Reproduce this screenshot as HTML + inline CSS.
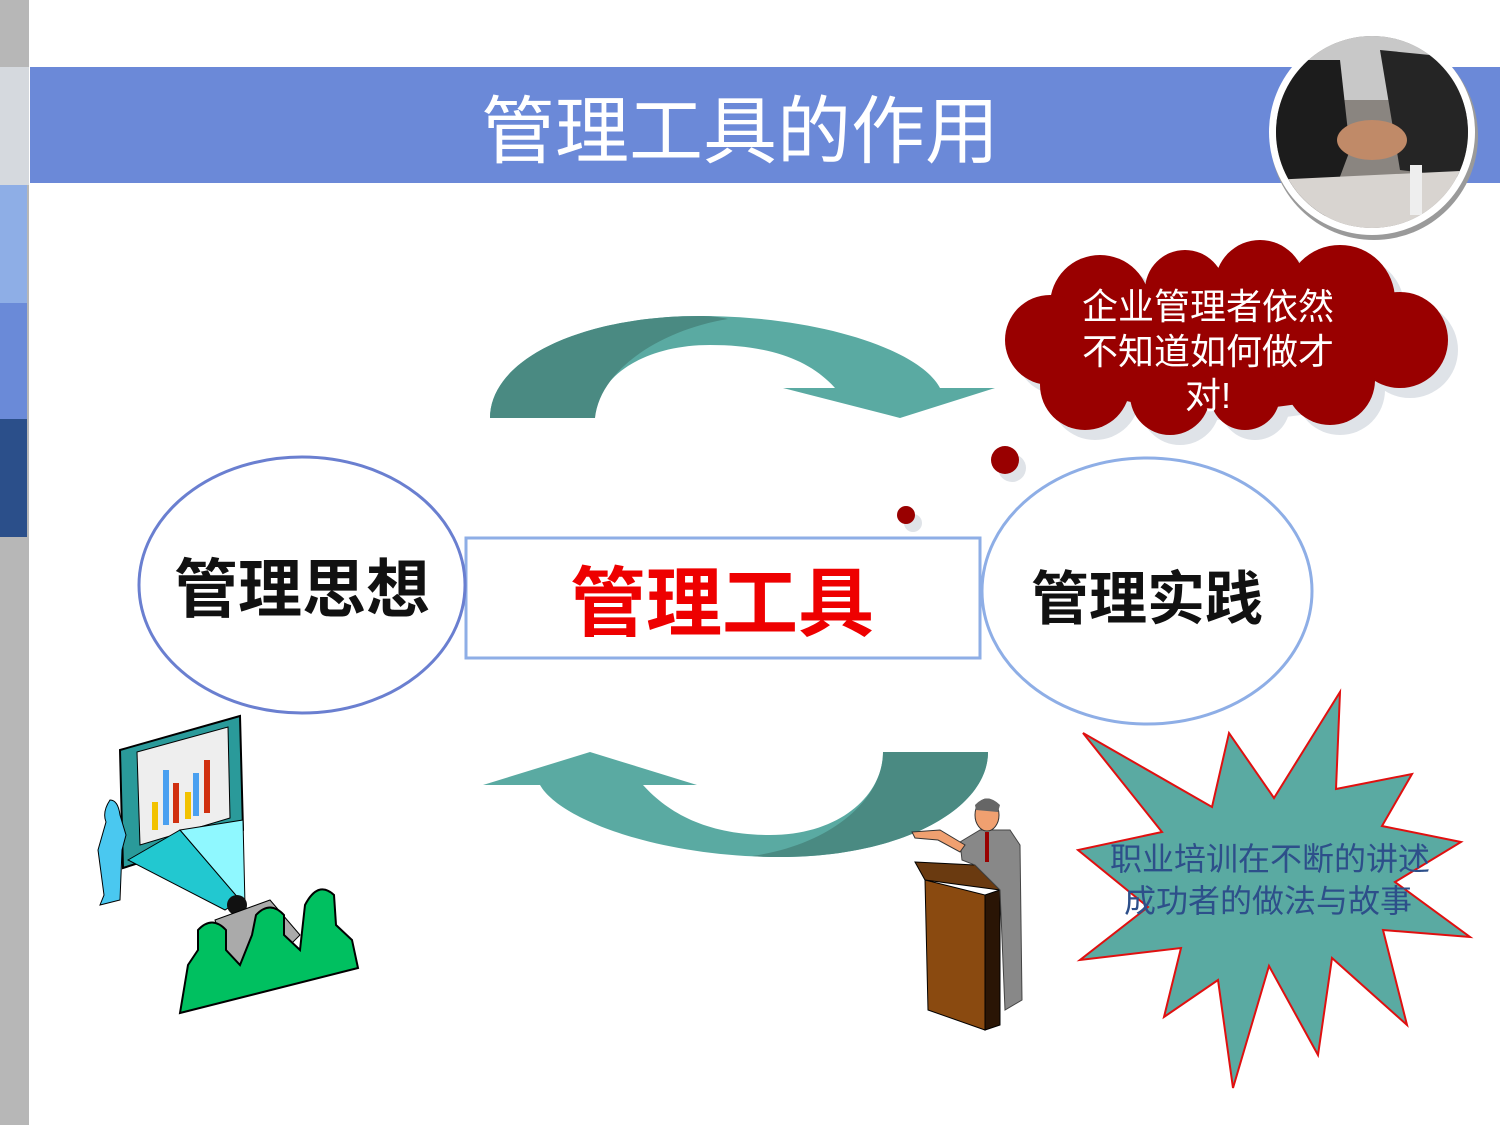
<!DOCTYPE html>
<html><head><meta charset="utf-8"><style>
html,body{margin:0;padding:0;background:#fff;}
body{width:1500px;height:1125px;position:relative;overflow:hidden;font-family:"Liberation Sans","Noto Sans CJK SC",sans-serif;}
svg{position:absolute;left:0;top:0;}
</style></head><body>
<svg width="1500" height="1125" viewBox="0 0 1500 1125" xmlns="http://www.w3.org/2000/svg">
<defs>
<clipPath id="cc"><circle cx="1372" cy="132" r="96"/></clipPath>
</defs>
<rect x="0" y="0" width="29" height="1125" fill="#b7b7b7"/>
<rect x="0" y="67" width="29" height="118" fill="#d5d9de"/>
<rect x="0" y="185" width="27" height="118" fill="#8eaee6"/>
<rect x="0" y="303" width="27" height="116" fill="#6a8ad8"/>
<rect x="0" y="419" width="27" height="118" fill="#2b4f8a"/>
<rect x="30" y="67" width="1470" height="116" fill="#6b89d8"/>
<text x="740" y="157" font-size="74" fill="#fff" text-anchor="middle">管理工具的作用</text>
<circle cx="1374" cy="136" r="104" fill="#9a9a9a"/>
<circle cx="1372" cy="132" r="103" fill="#fff"/>
<g clip-path="url(#cc)">
<rect x="1270" y="30" width="210" height="210" fill="#8a8580"/>
<rect x="1270" y="30" width="210" height="70" fill="#c8c8c8"/>
<path d="M1270,60 L1340,60 L1350,150 L1320,230 L1270,230Z" fill="#1c1c1c"/>
<path d="M1380,50 L1480,60 L1480,180 L1400,170 L1390,110Z" fill="#252525"/>
<ellipse cx="1372" cy="140" rx="35" ry="20" fill="#c08a68"/>
<path d="M1270,180 L1480,170 L1480,240 L1270,240Z" fill="#d8d4d0"/>
<rect x="1410" y="165" width="12" height="50" fill="#eee"/>
</g>
<path d="M490,418 C490,360 580,316 700,316 C820,316 920,350 940,388 L995,388 L900,418 L783,388 L835,388 C810,360 770,345 710,345 C640,345 595,380 595,418 Z" fill="#5aaaa2"/>
<path d="M490,418 C490,360 580,316 700,316 C710,316 720,317 728,319 C660,330 600,370 595,418 Z" fill="#4a8a82"/>
<path d="M988,752 C988,810 900,857 780,857 C660,857 560,820 540,785 L483,785 L590,752 L697,785 L643,785 C670,815 710,835 770,835 C840,835 883,795 883,752 Z" fill="#5aaaa2"/>
<path d="M988,752 C988,810 900,857 780,857 C770,857 762,857 752,856 C830,845 883,800 883,752 Z" fill="#4a8a82"/>
<g fill="#dfe3e8" transform="translate(10,10)">
<ellipse cx="1220" cy="345" rx="185" ry="65"/>
<circle cx="1100" cy="305" r="50"/><circle cx="1185" cy="290" r="40"/><circle cx="1260" cy="285" r="45"/><circle cx="1340" cy="300" r="55"/>
<circle cx="1050" cy="340" r="45"/><circle cx="1400" cy="340" r="48"/><circle cx="1085" cy="385" r="45"/><circle cx="1170" cy="395" r="40"/><circle cx="1245" cy="395" r="35"/><circle cx="1330" cy="380" r="45"/>
</g>
<g fill="#990000">
<ellipse cx="1220" cy="345" rx="185" ry="65"/>
<circle cx="1100" cy="305" r="50"/><circle cx="1185" cy="290" r="40"/><circle cx="1260" cy="285" r="45"/><circle cx="1340" cy="300" r="55"/>
<circle cx="1050" cy="340" r="45"/><circle cx="1400" cy="340" r="48"/><circle cx="1085" cy="385" r="45"/><circle cx="1170" cy="395" r="40"/><circle cx="1245" cy="395" r="35"/><circle cx="1330" cy="380" r="45"/>
</g>
<g font-size="36" fill="#fff" text-anchor="middle">
<text x="1208" y="319">企业管理者依然</text>
<text x="1208" y="364">不知道如何做才</text>
<text x="1208" y="408">对!</text>
</g>
<circle cx="1012" cy="468" r="14" fill="#dfe3e8"/><circle cx="1005" cy="460" r="14" fill="#990000"/>
<circle cx="913" cy="523" r="9" fill="#dfe3e8"/><circle cx="906" cy="515" r="9" fill="#990000"/>
<rect x="466" y="538" width="514" height="120" fill="#fff" stroke="#8eaee6" stroke-width="3"/>
<ellipse cx="302" cy="585" rx="163" ry="128" fill="none" stroke="#6a7fd0" stroke-width="3"/>
<ellipse cx="1147" cy="591" rx="165" ry="133" fill="none" stroke="#8eaee6" stroke-width="3"/>
<text x="302" y="612" font-size="64" font-weight="bold" fill="#111" text-anchor="middle">管理思想</text>
<text x="722" y="630" font-size="76" font-weight="bold" fill="#ee0000" text-anchor="middle">管理工具</text>
<text x="1147" y="619" font-size="58" font-weight="bold" fill="#111" text-anchor="middle">管理实践</text>
<polygon points="1083,733 1212,807 1229,733 1274,798 1340,692 1336,789 1412,774 1382,826 1461,842 1395,882 1470,937 1383,930 1407,1025 1332,958 1318,1055 1269,966 1233,1088 1218,980 1164,1017 1181,948 1080,960 1148,907 1078,850 1162,832" fill="#5aaaa2" stroke="#e01010" stroke-width="2"/>
<g font-size="32" fill="#2d4f8a" text-anchor="middle">
<text x="1270" y="870">职业培训在不断的讲述</text>
<text x="1268" y="912">成功者的做法与故事</text>
</g>
<polygon points="120,750 240,716 243,830 123,868" fill="#2a9a9a" stroke="#000" stroke-width="2"/>
<polygon points="137,752 228,727 230,818 140,845" fill="#eee" stroke="#000" stroke-width="1"/>
<rect x="152" y="802" width="6" height="28" fill="#f2c200"/><rect x="163" y="770" width="6" height="55" fill="#4aa0f0"/><rect x="173" y="783" width="6" height="40" fill="#d03010"/><rect x="185" y="792" width="6" height="27" fill="#f2c200"/><rect x="193" y="773" width="6" height="43" fill="#4aa0f0"/><rect x="204" y="760" width="6" height="53" fill="#d03010"/>
<polygon points="128,860 180,830 240,900 225,910" fill="#22c8d0" stroke="#000"/>
<polygon points="180,830 243,820 245,905 240,900" fill="#8ff8ff" stroke="#000"/>
<path d="M110,800 Q102,812 106,822 L98,850 L104,895 L100,905 L120,900 L122,850 L126,835 L120,815 Q118,800 110,800Z" fill="#4ac8f0" stroke="#000"/>
<circle cx="237" cy="905" r="10" fill="#111"/>
<polygon points="215,920 270,900 300,935 260,975 228,960" fill="#aaa" stroke="#000"/>
<path d="M180,1013 L188,965 L198,950 L198,930 Q212,915 226,930 L226,950 L240,965 L252,935 L256,915 Q270,900 284,915 L284,935 L300,950 L305,905 Q318,880 334,895 L336,925 L352,940 L358,968 Z" fill="#00c060" stroke="#000" stroke-width="2"/>
<polygon points="915,862 975,865 1000,890 925,880" fill="#6a3a10" stroke="#000"/>
<polygon points="925,880 985,895 985,1030 928,1010" fill="#8a4a10" stroke="#000"/>
<polygon points="985,895 1000,890 1000,1025 985,1030" fill="#2a1505" stroke="#000"/>
<path d="M960,842 L980,830 L1010,830 L1020,845 L1022,1000 L1005,1010 L1000,890 L975,865 L962,860 Z" fill="#888" stroke="#444"/>
<ellipse cx="987" cy="815" rx="12" ry="16" fill="#f0a070" stroke="#333"/>
<path d="M975,805 Q987,792 1000,805 L998,812 L976,810Z" fill="#666"/>
<path d="M912,832 L940,830 L965,845 L960,852 L938,840 L915,838Z" fill="#f0a070" stroke="#333"/>
<rect x="985" y="832" width="4" height="30" fill="#900"/>
</svg>
</body></html>
